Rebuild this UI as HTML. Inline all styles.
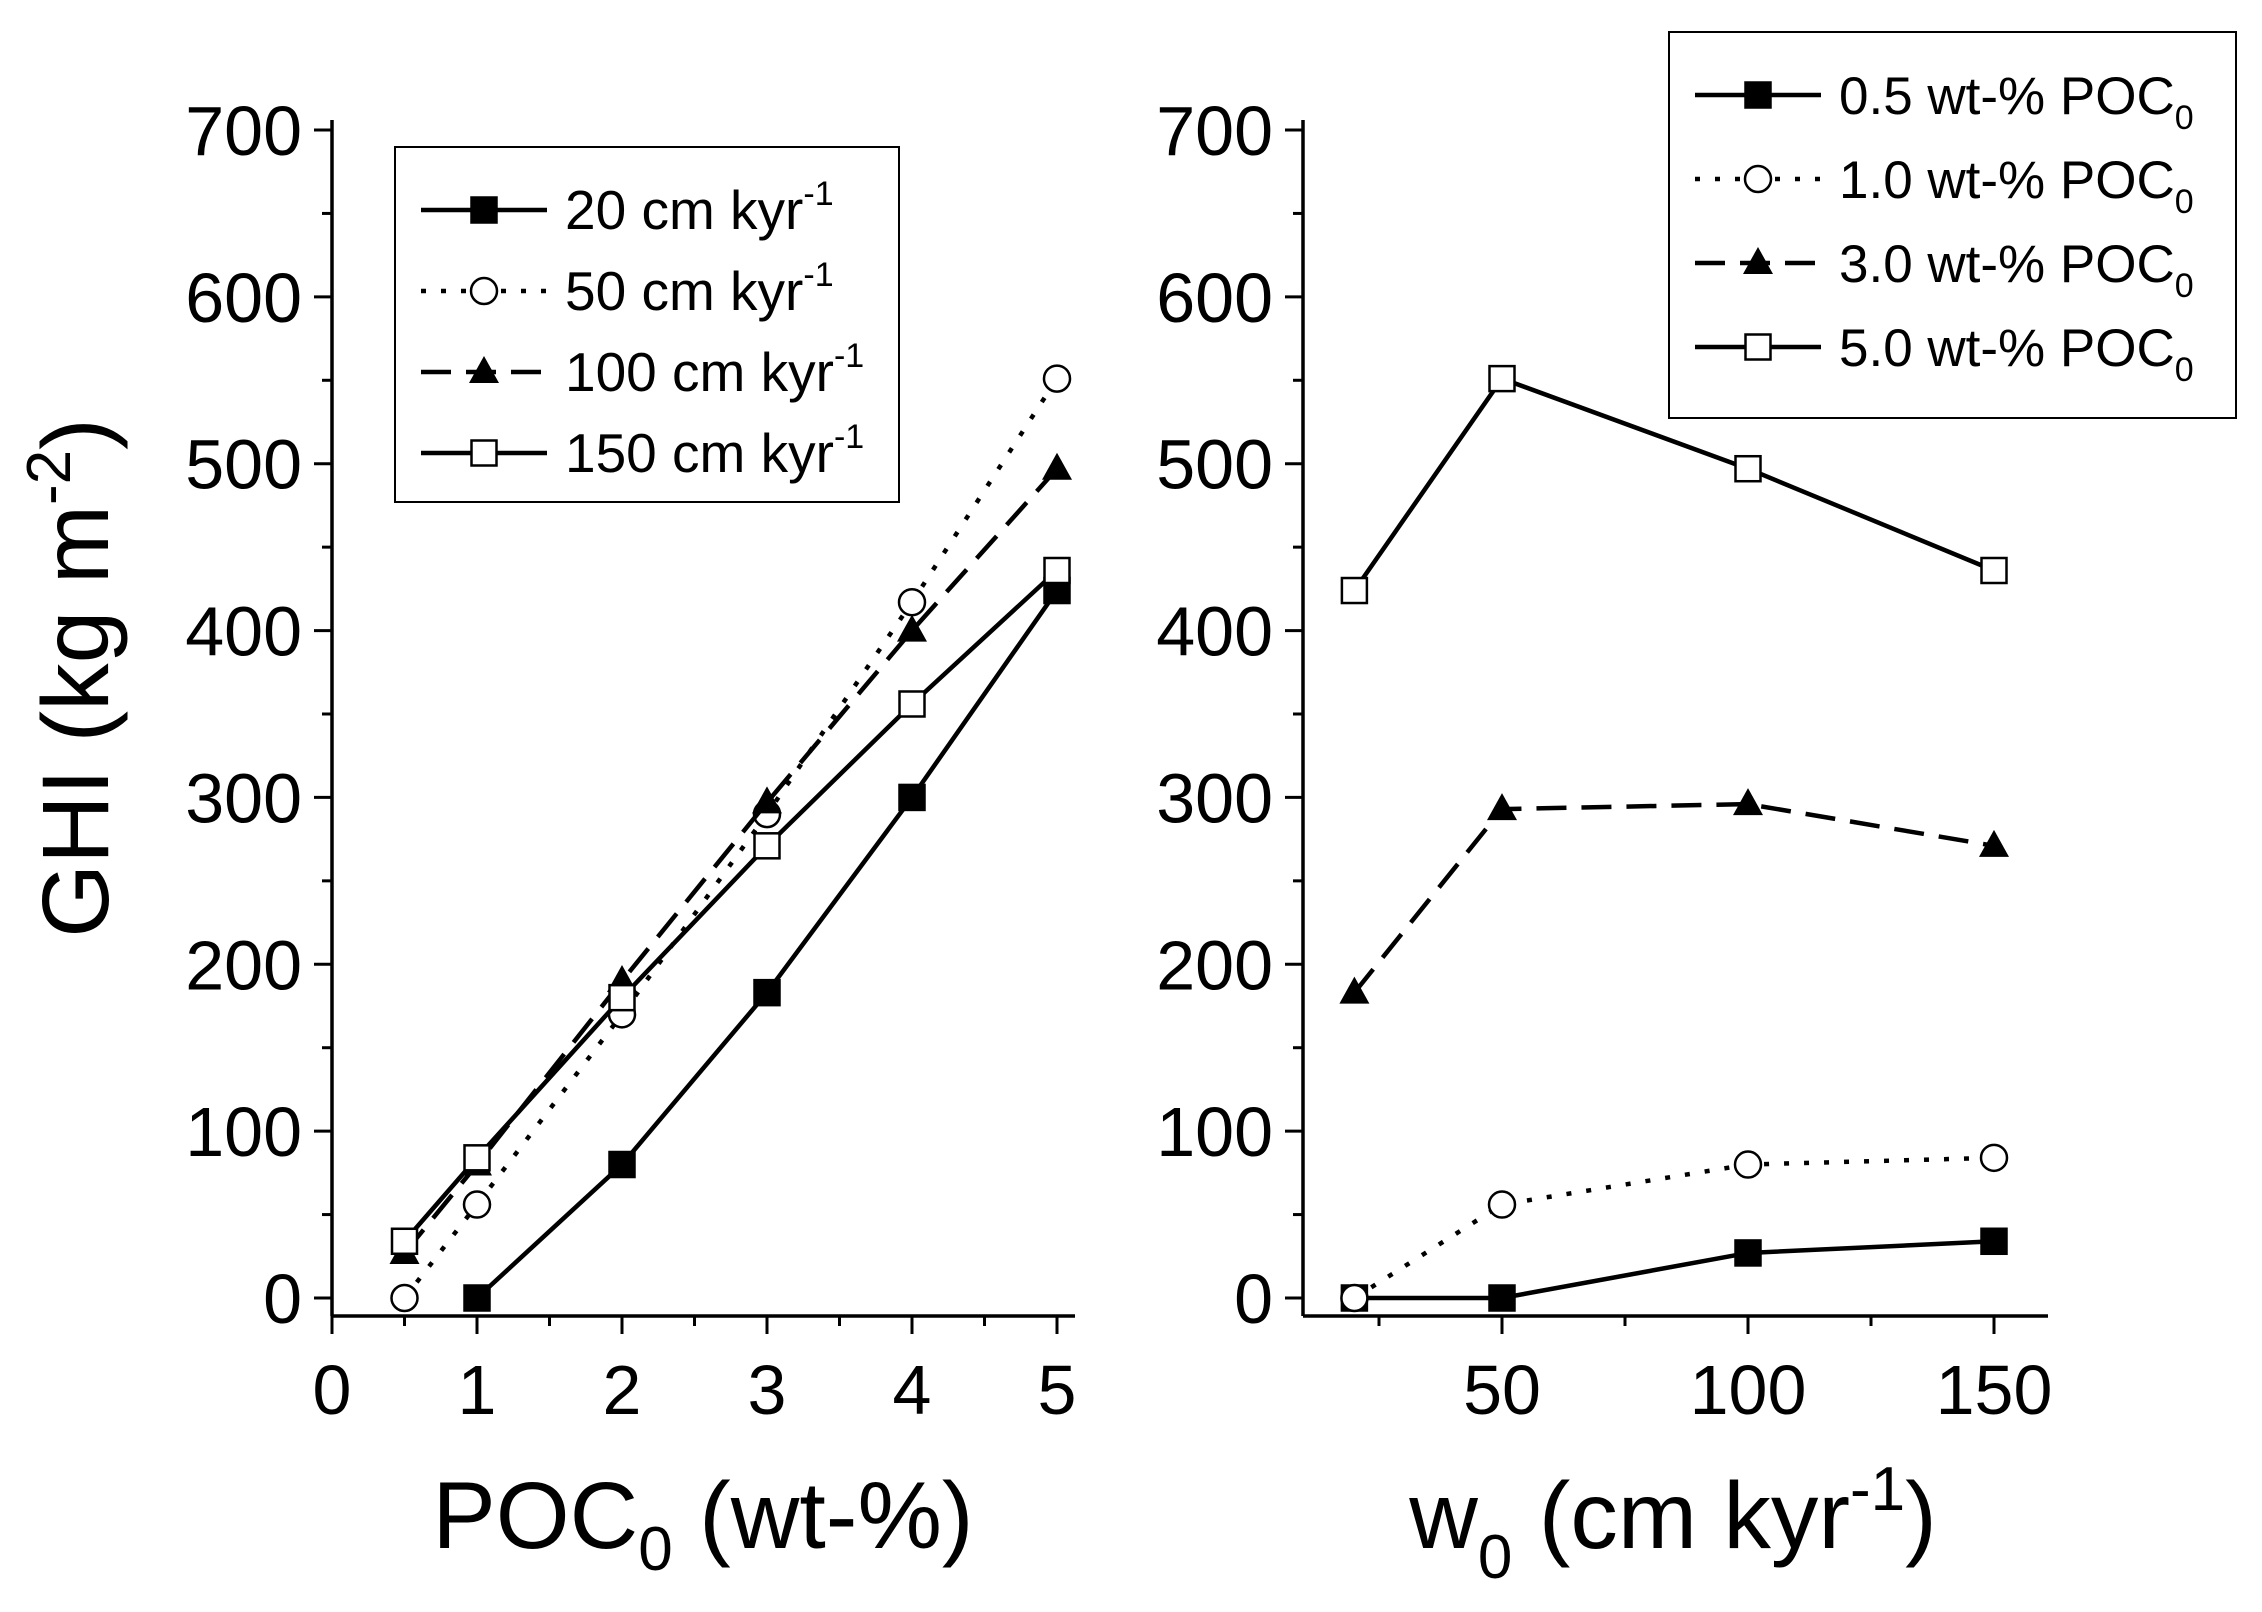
<!DOCTYPE html>
<html><head><meta charset="utf-8"><style>
html,body{margin:0;padding:0;background:#fff;}
svg{display:block;font-family:"Liberation Sans",Arial,sans-serif;}
</style></head><body>
<svg id="chart" width="2262" height="1612" viewBox="0 0 2262 1612" xmlns="http://www.w3.org/2000/svg"></svg>
<script>
// Left panel data (x = POC0 wt-%)
const leftNames = ["20 cm kyr", "50 cm kyr", "100 cm kyr", "150 cm kyr"];
const leftX20 = [1, 2, 3, 4, 5];
const leftY20 = [0, 80, 183, 300, 424];
const leftX50 = [0.5, 1, 2, 3, 4, 5];
const leftY50 = [0, 56, 170, 290, 417, 551];
const leftX100 = [0.5, 1, 2, 3, 4, 5];
const leftY100 = [27, 80, 190, 297, 400, 497];
const leftX150 = [0.5, 1, 2, 3, 4, 5];
const leftY150 = [34, 84, 180, 271, 356, 436];
// Right panel data (x = w0 cm/kyr)
const rightNames = ["0.5 wt-% POC", "1.0 wt-% POC", "3.0 wt-% POC", "5.0 wt-% POC"];
const rightX = [20, 50, 100, 150];
const rightY05 = [0, 0, 27, 34];
const rightY10 = [0, 56, 80, 84];
const rightY30 = [183, 293, 296, 271];
const rightY50 = [424, 551, 497, 436];
const yTicks = [0, 100, 200, 300, 400, 500, 600, 700];
const leftXTicks = [0, 1, 2, 3, 4, 5];
const rightXTicks = [50, 100, 150];

const svg = document.getElementById('chart');
const NS = 'http://www.w3.org/2000/svg';
function mk(tag, attrs, parent) {
  const e = document.createElementNS(NS, tag);
  for (const k in attrs) e.setAttribute(k, attrs[k]);
  (parent || svg).appendChild(e);
  return e;
}
const yScale = v => 1298 - v * (1298 - 130) / 700;
const lx = v => 332 + v * (1057 - 332) / 5;
const rx = v => 1502 + (v - 50) * (1994 - 1502) / 100;

const styles = { solid: '', dot: '5 15', dash: '30 15' };
function marker(kind, x, y, g) {
  let e;
  if (kind === 'sqf' || kind === 'sqo') {
    e = mk('rect', {x: x - 12.5, y: y - 12.5, width: 25, height: 25, fill: kind === 'sqf' ? '#000' : '#fff', stroke: '#000', 'stroke-width': 2.5}, g);
  } else if (kind === 'circ') {
    e = mk('circle', {cx: x, cy: y, r: 13, fill: '#fff', stroke: '#000', 'stroke-width': 2.5}, g);
  } else {
    e = mk('polygon', {points: `${x},${y - 16} ${x - 15},${y + 11} ${x + 15},${y + 11}`, fill: '#000'}, g);
  }
  return e;
}
function series(name, xs, ys, xf, dash, mkind) {
  const g = mk('g', {});
  
  
  const pts = xs.map((x, i) => xf(x) + ',' + yScale(ys[i])).join(' ');
  const pl = mk('polyline', {points: pts, fill: 'none', stroke: '#000', 'stroke-width': 4.5, 'stroke-dasharray': dash}, g);
  
  
  xs.forEach((x, i) => {
    const m = marker(mkind, xf(x), yScale(ys[i]), g);
    
    
  });
}
function yAxis(x0, xEnd) {
  const g = mk('g', {});
  
  
  mk('line', {x1: x0, y1: 120, x2: x0, y2: 1316, stroke: '#000', 'stroke-width': 3.5}, g);
  mk('line', {x1: x0, y1: 1316, x2: xEnd, y2: 1316, stroke: '#000', 'stroke-width': 3.5}, g);
  for (let v = 0; v <= 700; v += 50) {
    const major = v % 100 === 0;
    mk('line', {x1: x0, y1: yScale(v), x2: x0 - (major ? 18 : 10), y2: yScale(v), stroke: '#000', 'stroke-width': 3}, g);
  }
  yTicks.forEach(v => {
    const t = mk('text', {x: x0 - 30, y: yScale(v) + 25, 'font-size': 70, 'text-anchor': 'end'}, g);
    t.textContent = v;
    
    
  });
}
yAxis(332, 1075);
for (let v = 0; v <= 5; v += 0.5) {
  const major = Number.isInteger(v);
  mk('line', {x1: lx(v), y1: 1316, x2: lx(v), y2: 1316 + (major ? 18 : 10), stroke: '#000', 'stroke-width': 3});
}
leftXTicks.forEach(v => {
  const t = mk('text', {x: lx(v), y: 1414, 'font-size': 70, 'text-anchor': 'middle'});
  t.textContent = v;
  
  
});
yAxis(1303, 2048);
for (let v = 25; v <= 150; v += 25) {
  const major = v % 50 === 0;
  mk('line', {x1: rx(v), y1: 1316, x2: rx(v), y2: 1316 + (major ? 18 : 10), stroke: '#000', 'stroke-width': 3});
}
rightXTicks.forEach(v => {
  const t = mk('text', {x: rx(v), y: 1414, 'font-size': 70, 'text-anchor': 'middle'});
  t.textContent = v;
  
  
});

series('series-20', leftX20, leftY20, lx, styles.solid, 'sqf');
series('series-50', leftX50, leftY50, lx, styles.dot, 'circ');
series('series-100', leftX100, leftY100, lx, styles.dash, 'tri');
series('series-150', leftX150, leftY150, lx, styles.solid, 'sqo');
series('series-0-5', rightX, rightY05, rx, styles.solid, 'sqf');
series('series-1-0', rightX, rightY10, rx, styles.dot, 'circ');
series('series-3-0', rightX, rightY30, rx, styles.dash, 'tri');
series('series-5-0', rightX, rightY50, rx, styles.solid, 'sqo');

function legend(name, x, y, w, h, names, sup, sub, fs, textX, step) {
  const g = mk('g', {});
  
  
  mk('rect', {x: x, y: y, width: w, height: h, fill: '#fff', stroke: '#000', 'stroke-width': 2}, g);
  const kinds = [['', 'sqf'], [styles.dot, 'circ'], [styles.dash, 'tri'], ['', 'sqo']];
  names.forEach((n, i) => {
    const cy = y + 63 + i * step;
    const e = mk('g', {}, g);
    
    
    mk('line', {x1: x + 26, y1: cy, x2: x + 152, y2: cy, stroke: '#000', 'stroke-width': 4.5, 'stroke-dasharray': kinds[i][0]}, e);
    marker(kinds[i][1], x + 89, cy, e);
    const t = mk('text', {x: x + textX, y: cy + 19, 'font-size': fs}, e);
    t.textContent = n;
    if (sup) { const s = mk('tspan', {dy: -24, 'font-size': 34}, t); s.textContent = '-1'; }
    if (sub) { const s = mk('tspan', {dy: 15, 'font-size': 34}, t); s.textContent = '0'; }
  });
}
legend('left-legend', 395, 147, 504, 355, leftNames, true, false, 55, 170, 81);
legend('right-legend', 1669, 32, 567, 386, rightNames, false, true, 53, 170, 84);

let t = mk('text', {x: 0, y: 0, 'font-size': 95, 'text-anchor': 'middle', transform: 'translate(108,678) rotate(-90)'});


t.innerHTML = 'GHI (kg m<tspan dy="-38" font-size="62">-2</tspan><tspan dy="38">)</tspan>';
t = mk('text', {x: 703, y: 1548, 'font-size': 95, 'text-anchor': 'middle'});


t.innerHTML = 'POC<tspan dy="22" font-size="62">0</tspan><tspan dy="-22"> (wt-%)</tspan>';
t = mk('text', {x: 1673, y: 1548, 'font-size': 95, 'text-anchor': 'middle'});


t.innerHTML = 'w<tspan dy="30" font-size="62">0</tspan><tspan dy="-30"> (cm kyr</tspan><tspan dy="-38" font-size="62">-1</tspan><tspan dy="38">)</tspan>';
</script>
</body></html>
